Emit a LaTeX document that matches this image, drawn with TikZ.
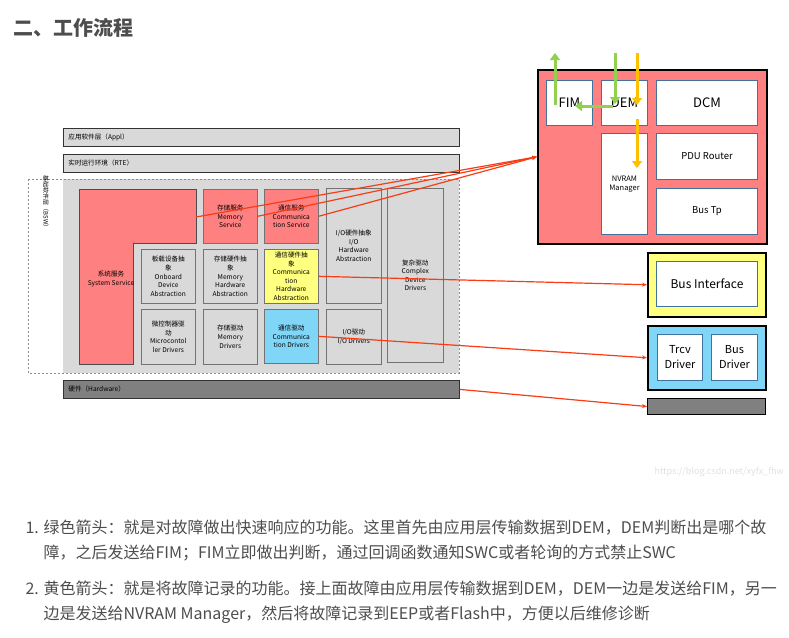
\documentclass[tikz,border=0pt]{standalone}
\usepackage{fontspec}
\setmainfont{Noto Sans CJK SC}
\usetikzlibrary{arrows.meta, calc}
\definecolor{svcred}{RGB}{255,128,128}
\definecolor{hwyellow}{RGB}{255,255,128}
\definecolor{drvblue}{RGB}{128,214,247}
\definecolor{lgrey}{RGB}{217,217,217}
\definecolor{dgrey}{RGB}{128,128,128}
\definecolor{steel}{RGB}{65,113,156}
\definecolor{fastgreen}{RGB}{146,208,80}
\definecolor{loggold}{RGB}{255,192,0}
\definecolor{linkred}{RGB}{250,60,20}
\definecolor{txtgrey}{RGB}{77,77,77}
\newcommand\boxfont{\fontsize{6.6}{8.6}\selectfont}
\newcommand\bodyfont{\fontsize{16}{20}\selectfont}

\begin{document}
\begin{tikzpicture}[x=1pt, y=-1pt,
  bar/.style={draw=black!80, line width=0.8pt, anchor=north west, inner ysep=0pt, inner xsep=5pt, minimum height=18pt, text width=386pt, align=left, font=\boxfont},
  mod/.style={draw=black!55, line width=0.6pt, fill=lgrey, anchor=north west, inner sep=0pt, align=center, font=\boxfont, minimum width=54pt, minimum height=54pt},
  blk/.style={draw=steel, line width=1pt, fill=white, anchor=north west, inner sep=0pt, align=center},
  outer/.style={draw=black, line width=1.5pt, anchor=north west, inner sep=0pt},
  link/.style={draw=linkred, line width=1.2pt, -{Stealth[length=5pt, width=4pt]}},
  garrow/.style={draw=fastgreen, line width=3pt, -{Triangle[length=7pt, width=10pt]}},
  yarrow/.style={draw=loggold, line width=3pt, -{Triangle[length=7pt, width=10pt]}}
]
\useasboundingbox (0,0) rectangle (789,637);

\node[anchor=west, font=\fontsize{20}{24}\selectfont\bfseries, text=txtgrey] (title) at (10,28) {二、工作流程};

% AUTOSAR layers
\node[bar, fill=lgrey] (appl) at (63,128) {应用软件层（Appl）};
\node[bar, fill=lgrey] (rte) at (63,154) {实时运行环境（RTE）};
\fill[lgrey] (63,179) rectangle (459,373);
\draw[black!45, line width=0.6pt, dash pattern=on 2pt off 2pt] (28,179) rectangle (459,373);
\node[rotate=-90, font=\fontsize{6}{7}\selectfont] (bswlbl) at (46,203) {基础软件层（BSW）};
\node[bar, fill=dgrey] (hw) at (63,380) {硬件（Hardware）};

\draw[black!70, line width=0.7pt, fill=svcred] (79,189) -- (196,189) -- (196,243) -- (133,243) -- (133,364) -- (79,364) -- cycle;
\node[font=\boxfont, align=center] (syssvc) at (111,279) {系统服务\\System Service};
\coordinate (syssvc-e) at (196,217);

\node[mod, fill=svcred] (memsvc) at (203,189) {存储服务\\Memory\\Service};
\node[mod, fill=svcred] (comsvc) at (264,189) {通信服务\\Communica\\tion Service};
\node[mod, minimum width=55pt, minimum height=115pt] (iohwa) at (326,188) {I/O硬件抽象\\I/O\\Hardware\\Abstraction};
\node[mod, minimum width=56pt, minimum height=174pt] (cdd) at (387,188) {复杂驱动\\Complex\\Device\\Drivers};
\node[mod] (obda) at (141,249) {板载设备抽\\象\\Onboard\\Device\\Abstraction};
\node[mod] (memhwa) at (203,249) {存储硬件抽\\象\\Memory\\Hardware\\Abstraction};
\node[mod, fill=hwyellow] (comhwa) at (264,249) {通信硬件抽\\象\\Communica\\tion\\Hardware\\Abstraction};
\node[mod, minimum height=55pt] (mcal) at (141,309) {微控制器驱\\动\\Microcontol\\ler Drivers};
\node[mod, minimum height=55pt] (memdrv) at (203,309) {存储驱动\\Memory\\Drivers};
\node[mod, fill=drvblue, minimum height=54pt] (comdrv) at (264,309) {通信驱动\\Communica\\tion Drivers};
\node[mod, minimum width=55pt, minimum height=55pt] (iodrv) at (326,309) {I/O驱动\\I/O Drivers};

% service layer zoom
\node[outer, fill=svcred, minimum width=229pt, minimum height=174pt] (dsvc) at (537,69) {};
\node[blk, minimum width=46pt, minimum height=45pt, font=\fontsize{13}{14}\selectfont] (fim) at (546,80) {FIM};
\node[blk, minimum width=46pt, minimum height=45pt, font=\fontsize{13}{14}\selectfont] (dem) at (601,80) {DEM};
\node[blk, minimum width=101pt, minimum height=45pt, font=\fontsize{13}{14}\selectfont] (dcm) at (656,80) {DCM};
\node[blk, minimum width=46pt, minimum height=101pt, font=\fontsize{7.5}{9}\selectfont] (nvm) at (601,133) {NVRAM\\Manager};
\node[blk, minimum width=101pt, minimum height=46pt, font=\fontsize{9.5}{11}\selectfont] (pdur) at (656,133) {PDU Router};
\node[blk, minimum width=101pt, minimum height=46pt, font=\fontsize{9.5}{11}\selectfont] (bustp) at (656,188) {Bus Tp};

% abstraction / driver / hardware zoom
\node[outer, fill=hwyellow, minimum width=118pt, minimum height=64pt] (ifbox) at (647,252) {};
\node[blk, minimum width=101pt, minimum height=45pt, font=\fontsize{12}{14}\selectfont] (busif) at (656,261) {Bus Interface};
\node[outer, fill=drvblue, minimum width=118pt, minimum height=64pt] (drvbox) at (647,325) {};
\node[blk, minimum width=45pt, minimum height=46pt, font=\fontsize{11}{15}\selectfont] (trcv) at (657,334) {Trcv\\Driver};
\node[blk, minimum width=46pt, minimum height=46pt, font=\fontsize{11}{15}\selectfont] (busdrv) at (711,334) {Bus\\Driver};
\node[outer, line width=1pt, fill=dgrey, minimum width=118pt, minimum height=16pt] (hwbox) at (647,398) {};

% links
\draw[link] (syssvc-e) -- (dsvc.west);
\draw[link] (memsvc.east) -- (dsvc.west);
\draw[link] (comsvc.east) -- (dsvc.west);
\draw[link] (comhwa.east) -- (ifbox.west);
\draw[link] (comdrv.east) -- (drvbox.west);
\draw[link] (hw.east) -- (hwbox.west);

% green: fast reaction, yellow: fault logging
\coordinate (gtop) at (555,53);
\coordinate (gin) at (615,53);
\coordinate (yin) at (637,53);
\draw[garrow] (555,105) -- (gtop);
\draw[garrow] (gin) -- (615,104);
\draw[garrow] (613,106) -- (575,106);
\draw[yarrow] (yin) -- (637,105);
\draw[yarrow] (637,119) -- (637,168);

\node[anchor=west, font=\fontsize{9}{10}\selectfont, text=black!12] (wm) at (651,472) {https://blog.csdn.net/xyfx\_fhw};

% notes
\node[anchor=base west, font=\bodyfont, text=txtgrey] (n1) at (22,533) {1.};
\node[anchor=base west, font=\bodyfont, text=txtgrey] (n1a) at (40,533) {绿色箭头：就是对故障做出快速响应的功能。这里首先由应用层传输数据到DEM，DEM判断出是哪个故};
\node[anchor=base west, font=\bodyfont, text=txtgrey] (n1b) at (40,558) {障，之后发送给FIM；FIM立即做出判断，通过回调函数通知SWC或者轮询的方式禁止SWC};
\node[anchor=base west, font=\bodyfont, text=txtgrey] (n2) at (22,594) {2.};
\node[anchor=base west, font=\bodyfont, text=txtgrey] (n2a) at (40,594) {黄色箭头：就是将故障记录的功能。接上面故障由应用层传输数据到DEM，DEM一边是发送给FIM，另一};
\node[anchor=base west, font=\bodyfont, text=txtgrey] (n2b) at (40,619) {边是发送给NVRAM Manager，然后将故障记录到EEP或者Flash中，方便以后维修诊断};
\end{tikzpicture}
\end{document}
